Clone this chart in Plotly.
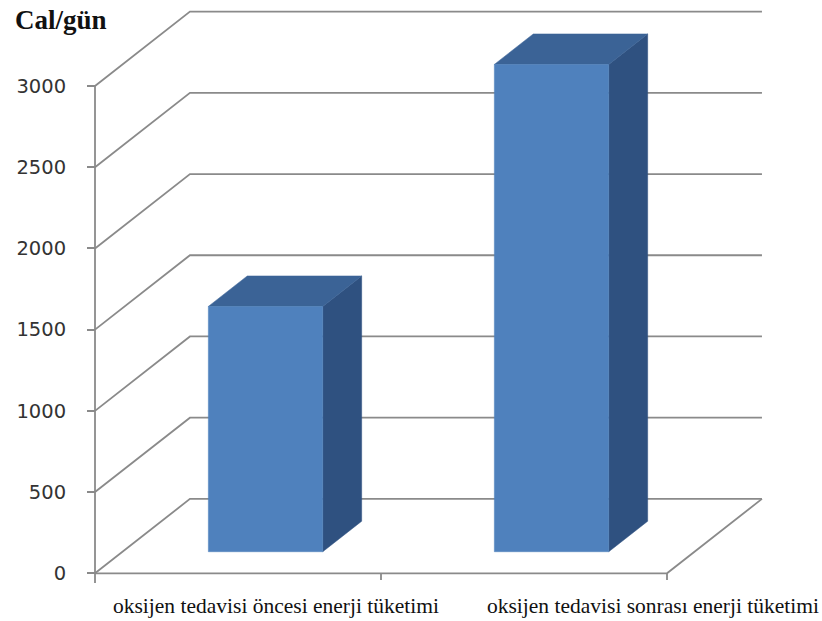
import plotly.graph_objects as go

# ---- data ----
CATEGORIES = [
    "oksijen tedavisi öncesi enerji tüketimi",
    "oksijen tedavisi sonrası enerji tüketimi",
]
VALUES = [1510, 3000]
Y_TICKS = [0, 500, 1000, 1500, 2000, 2500, 3000]
Y_TICK_LABELS = ["0", "500", "1000", "1500", "2000", "2500", "3000"]
Y_TITLE = "Cal/gün"

# ---- style / geometry ----
W, H = 822, 621
KX = 0.332          # oblique depth shift, in category units per unit depth
KY = 458.0          # oblique depth shift, in value units per unit depth
BAR_C = (0.30, 0.70)  # bar extent inside its category slot
BAR_D = (0.29, 0.70)  # bar extent along the depth
FRONT = "#4f81bd"
TOP = "#3b6396"
SIDE = "#2f5180"
GRID = "#8a8a8a"
LABEL_POS = [0.633, 1.951]   # category label centres (category units)

X_RANGE = [-10 / 286, 727 / 286]
Y_RANGE = [-164.4, 3529.5]


def proj(c, v, d):
    """Oblique projection of (category, value, depth) onto the 2D axes."""
    return c + d * KX, v + d * KY


def poly(pts):
    xs, ys = zip(*[proj(*p) for p in pts])
    return list(xs) + [xs[0]], list(ys) + [ys[0]]


fig = go.Figure()
n = len(CATEGORIES)
line_style = dict(color=GRID, width=1.8)

# back wall gridlines with their diagonal on the side wall
for v in Y_TICKS:
    xs, ys = zip(proj(0, v, 0), proj(0, v, 1), proj(n, v, 1))
    fig.add_trace(go.Scatter(x=xs, y=ys, mode="lines", line=line_style,
                             hoverinfo="skip", showlegend=False))

# floor front edge and right edge
xs, ys = zip(proj(0, 0, 0), proj(n, 0, 0), proj(n, 0, 1))
fig.add_trace(go.Scatter(x=xs, y=ys, mode="lines", line=line_style,
                         hoverinfo="skip", showlegend=False))

# vertical value axis line
fig.add_trace(go.Scatter(x=[0, 0], y=[-60, Y_TICKS[-1]], mode="lines",
                         line=line_style, hoverinfo="skip", showlegend=False))

# category divider ticks
for k in range(1, n + 1):
    fig.add_trace(go.Scatter(x=[k, k], y=[0, -42], mode="lines",
                             line=line_style, hoverinfo="skip",
                             showlegend=False))

# 3D bars
c0, c1 = BAR_C
d0, d1 = BAR_D
for i, (cat, h) in enumerate(zip(CATEGORIES, VALUES)):
    a, b = i + c0, i + c1
    faces = [
        ([(b, 0, d0), (b, 0, d1), (b, h, d1), (b, h, d0)], SIDE),
        ([(a, h, d0), (b, h, d0), (b, h, d1), (a, h, d1)], TOP),
        ([(a, 0, d0), (b, 0, d0), (b, h, d0), (a, h, d0)], FRONT),
    ]
    for pts, col in faces:
        xs, ys = poly(pts)
        fig.add_trace(go.Scatter(x=xs, y=ys, mode="lines", fill="toself",
                                 fillcolor=col, line=dict(color=col, width=0.5),
                                 name=cat, hoverinfo="name", showlegend=False))

annotations = [
    dict(text="<b>" + Y_TITLE + "</b>", xref="paper", yref="paper",
         x=13 / W, y=1 - 3 / H, xanchor="left", yanchor="top",
         showarrow=False,
         font=dict(family="Liberation Serif", size=27, color="#111111"))
]
for pos, cat in zip(LABEL_POS, CATEGORIES):
    annotations.append(dict(text=cat, xref="x", yref="paper", x=pos,
                            y=1 - 606 / H, xanchor="center", yanchor="middle",
                            showarrow=False,
                            font=dict(family="Liberation Serif", size=21.5,
                                      color="#111111")))

fig.update_layout(
    width=W, height=H,
    margin=dict(l=0, r=0, t=0, b=0),
    paper_bgcolor="white", plot_bgcolor="white",
    xaxis=dict(domain=[85 / W, 1], range=X_RANGE, visible=False,
               showgrid=False, zeroline=False),
    yaxis=dict(domain=[1 - 600 / H, 1], range=Y_RANGE, anchor="free",
               position=95 / W, tickvals=Y_TICKS, ticktext=Y_TICK_LABELS,
               ticks="outside", ticklen=8, tickwidth=1.5, tickcolor=GRID,
               showgrid=False, zeroline=False, showline=False,
               ticklabelstandoff=17,
               tickfont=dict(family="DejaVu Sans", size=19.5, color="#333333")),
    annotations=annotations,
    showlegend=False,
)

fig.write_html("out.html")
